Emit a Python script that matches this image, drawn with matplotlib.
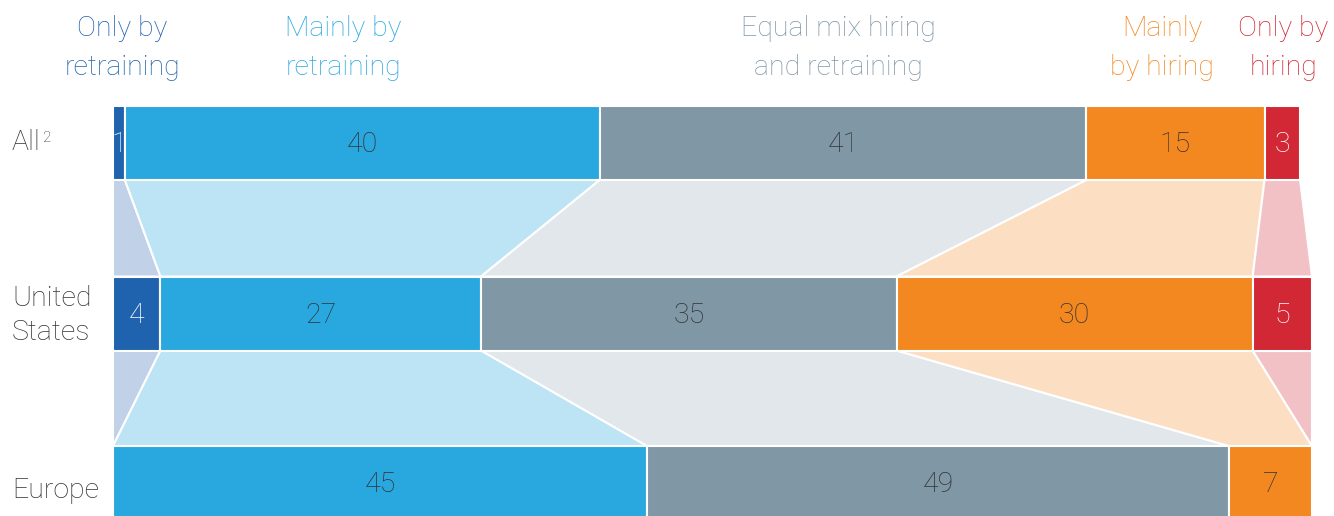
import matplotlib.pyplot as plt
import numpy as np
from matplotlib.patches import Polygon

# data
categories = ['Only by\nretraining', 'Mainly by\nretraining', 'Equal mix hiring\nand retraining',
              'Mainly\nby hiring', 'Only by\nhiring']
rows = ['All', 'United\nStates', 'Europe']
all_vals = [1, 40, 41, 15, 3]
us_vals = [4, 27, 35, 30, 5]
europe_vals = [0, 45, 49, 7, 0]

colors = ['#1F63AE', '#29A8E0', '#8097A6', '#F38820', '#D22734']
light = ['#C0D1E8', '#BDE4F4', '#E1E7EB', '#FCDEC3', '#F2C1C6']
value_colors = ['white', '#333333', '#333333', '#333333', 'white']

plt.rcParams['font.family'] = ['Roboto', 'DejaVu Sans']
plt.rcParams['font.weight'] = 'light'

fig = plt.figure(figsize=(13.34, 5.16), dpi=100)
ax = fig.add_axes([113 / 1334, 0, 1199 / 1334, 1])
ax.set_xlim(0, 101)
ax.set_ylim(516, 0)
ax.axis('off')

data = [all_vals, us_vals, europe_vals]
centers = [143, 313.5, 483]
bh = 74

lefts = [np.concatenate([[0], np.cumsum(v)[:-1]]) for v in data]

# connectors between rows
for r in range(len(data) - 1):
    yb = centers[r] + bh / 2
    yt = centers[r + 1] - bh / 2
    for i in range(len(categories)):
        a0, a1 = lefts[r][i], lefts[r][i] + data[r][i]
        b0, b1 = lefts[r + 1][i], lefts[r + 1][i] + data[r + 1][i]
        poly = Polygon([(a0, yb), (a1, yb), (b1, yt), (b0, yt)], closed=True,
                       facecolor=light[i], edgecolor='white', linewidth=1.5)
        ax.add_patch(poly)

# bars
for r, vals in enumerate(data):
    for i, v in enumerate(vals):
        if v == 0:
            continue
        ax.barh(centers[r], v, left=lefts[r][i], height=bh, color=colors[i],
                edgecolor='white', linewidth=1.5)
        ax.text(lefts[r][i] + v / 2, centers[r] + 2, str(v), ha='center', va='center',
                fontsize=20.5, color=value_colors[i])

# column headers
header_x = [0.76, 19.4, 61.1, 88.4, 98.6]
for i, c in enumerate(categories):
    ax.text(header_x[i], 48, c, ha='center', va='center', fontsize=20.5,
            color=colors[i], linespacing=1.6, clip_on=False)

# row labels
row_x = -101 / 1199 * (113 - 12)
t_all = ax.text(row_x, centers[0], rows[0], ha='left', va='center', fontsize=20.5,
                color='#333333', clip_on=False)
ax.annotate('2', xy=(1, 1), xycoords=t_all, xytext=(1, -1), textcoords='offset points',
            ha='left', va='top', fontsize=11, color='#333333', annotation_clip=False)
ax.text(row_x, centers[1] + 2, rows[1], ha='left', va='center', fontsize=20.5,
        color='#333333', linespacing=1.35, clip_on=False)
ax.text(row_x, centers[2] + 7, rows[2], ha='left', va='center', fontsize=20.5,
        color='#333333', clip_on=False)

fig.savefig('out.png', dpi=100)
